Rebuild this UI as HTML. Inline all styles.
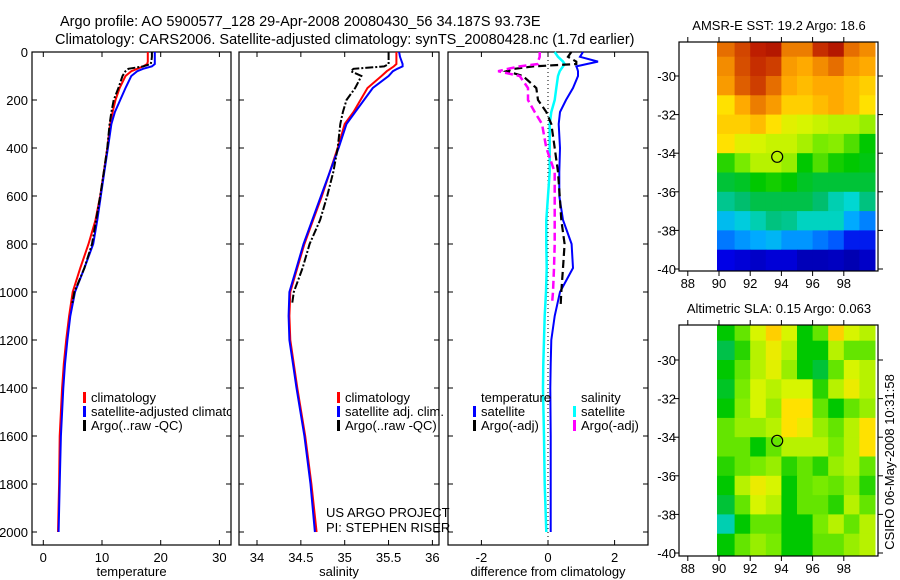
<!DOCTYPE html>
<html><head><meta charset="utf-8">
<style>
html,body{margin:0;padding:0;background:#fff;}
svg{display:block;font-family:"Liberation Sans",sans-serif;}
text{fill:#000;}
</style></head>
<body>
<svg id="chart" width="900" height="580" viewBox="0 0 900 580" xmlns="http://www.w3.org/2000/svg">
<defs><clipPath id="p1clip"><rect x="32" y="52" width="199" height="493"/></clipPath></defs>
<text x="60" y="26" font-size="14.5">Argo profile: AO 5900577_128 29-Apr-2008 20080430_56 34.187S 93.73E</text>
<text x="55" y="44" font-size="14.5">Climatology: CARS2006. Satellite-adjusted climatology: synTS_20080428.nc (1.7d earlier)</text>
<g id="g"></g>
</svg>
<script>
// ---- data ----
const depths=[0,20,40,50,60,70,80,100,150,200,250,300,400,500,600,700,800,900,1000,1100,1200,1300,1400,1600,1800,2000];
const tempClim=[17.8,17.8,17.8,17.7,17.0,16.0,15.0,14.0,13.0,12.3,11.8,11.4,10.9,10.3,9.7,8.9,7.7,6.3,5.0,4.4,3.9,3.5,3.2,2.8,2.7,2.5];
const tempSat=[19.0,19.0,19.0,19.0,18.5,17.0,16.0,15.0,14.0,13.1,12.2,11.6,11.0,10.4,9.8,9.2,8.5,7.0,5.4,4.6,4.1,3.7,3.4,3.0,2.8,2.6];
const argoDepths=[0,20,40,50,60,70,80,100,150,200,250,300,400,500,600,700,800,900,1000,1050];
const tempArgo=[18.5,18.5,18.4,18.3,17.0,14.5,14.0,13.5,12.8,12.0,11.6,11.3,10.9,10.3,9.7,9.0,8.3,7.0,5.3,4.9];
const salClim=[35.59,35.59,35.59,35.59,35.56,35.52,35.48,35.42,35.26,35.18,35.1,35.0,34.92,34.83,34.74,34.64,34.54,34.46,34.38,34.37,34.38,34.42,34.46,34.55,34.62,34.68];
const salSat=[35.62,35.63,35.65,35.66,35.66,35.6,35.55,35.5,35.32,35.22,35.12,35.02,34.93,34.83,34.73,34.63,34.53,34.45,34.37,34.36,34.37,34.41,34.45,34.54,34.61,34.66];
const salArgo=[35.5,35.5,35.5,35.5,35.45,35.1,35.07,35.19,35.12,35.02,34.98,34.95,34.92,34.87,34.8,34.72,34.6,34.52,34.42,34.40];
const dTempSat=[1.05,0.96,1.5,1.17,0.85,0.88,0.9,0.9,0.75,0.54,0.36,0.32,0.36,0.34,0.34,0.45,0.71,0.75,0.36,0.2,0.1,0.08,0.07,0.08,0.08,0.08];
const dSalSat=[0.2,0.3,0.45,0.5,0.45,0.4,0.35,0.3,0.25,0.2,0.1,0.05,0.05,0.05,0.0,-0.05,-0.05,-0.04,-0.06,-0.1,-0.12,-0.14,-0.15,-0.12,-0.1,-0.05];
const dTempArgo=[0.7,0.6,0.85,0.85,-0.45,-1.0,-1.25,-0.75,-0.35,-0.3,-0.05,0.1,0.2,0.3,0.35,0.4,0.5,0.45,0.4,0.38];
const dSalArgo=[-0.25,-0.25,-0.3,-0.3,-0.85,-1.2,-1.5,-0.85,-0.6,-0.6,-0.4,-0.18,-0.05,0.2,0.2,0.2,0.2,0.18,0.15,0.12];
const tempTicks=[0,10,20,30];
const salTicks=[34,34.5,35,35.5,36];
const diffTicks=[-2,0,2];
const depthTicks=[0,200,400,600,800,1000,1200,1400,1600,1800,2000];
const lonTicks=[88,90,92,94,96,98];
const latTicks=[-30,-32,-34,-36,-38,-40];
const mapLons=[90,91,92,93,94,95,96,97,98,99];
const mapLats=[-28,-29,-30,-31,-32,-33,-34,-35,-36,-37,-38,-39];
const sstGrid=[
[0.8,0.85,0.9,0.92,0.78,0.78,0.88,0.92,0.8,0.76],
[0.76,0.84,0.88,0.86,0.74,0.72,0.76,0.8,0.74,0.72],
[0.74,0.82,0.86,0.8,0.72,0.7,0.72,0.72,0.7,0.68],
[0.66,0.72,0.78,0.74,0.68,0.68,0.7,0.72,0.7,0.66],
[0.68,0.68,0.7,0.66,0.63,0.62,0.61,0.6,0.6,0.58],
[0.66,0.63,0.62,0.61,0.61,0.59,0.56,0.57,0.54,0.5],
[0.52,0.56,0.6,0.6,0.58,0.5,0.54,0.51,0.5,0.49],
[0.47,0.48,0.5,0.51,0.5,0.48,0.47,0.47,0.47,0.47],
[0.42,0.44,0.46,0.46,0.46,0.46,0.44,0.4,0.38,0.43],
[0.33,0.36,0.4,0.43,0.42,0.39,0.39,0.39,0.3,0.26],
[0.25,0.28,0.3,0.32,0.28,0.28,0.25,0.22,0.15,0.15],
[0.12,0.1,0.08,0.1,0.1,0.06,0.06,0.07,0.05,0.08]];
const slaGrid=[
[0.5,0.55,0.62,0.68,0.62,0.5,0.55,0.68,0.62,0.6],
[0.46,0.52,0.6,0.64,0.6,0.5,0.5,0.6,0.55,0.55],
[0.5,0.55,0.6,0.63,0.58,0.5,0.47,0.55,0.62,0.6],
[0.48,0.56,0.62,0.6,0.62,0.62,0.52,0.6,0.64,0.6],
[0.5,0.57,0.62,0.58,0.66,0.66,0.55,0.5,0.55,0.58],
[0.55,0.58,0.58,0.6,0.66,0.64,0.58,0.55,0.6,0.66],
[0.55,0.55,0.5,0.55,0.6,0.6,0.6,0.56,0.6,0.66],
[0.52,0.55,0.56,0.58,0.52,0.55,0.52,0.58,0.6,0.55],
[0.5,0.6,0.64,0.62,0.5,0.55,0.56,0.55,0.58,0.52],
[0.47,0.55,0.62,0.6,0.5,0.55,0.55,0.52,0.6,0.55],
[0.4,0.5,0.55,0.55,0.5,0.5,0.56,0.6,0.55,0.6],
[0.5,0.55,0.58,0.56,0.5,0.5,0.55,0.55,0.58,0.6]];
const argoLon=93.73, argoLat=-34.187;

// ---- helpers ----
const NS="http://www.w3.org/2000/svg";
const G=document.getElementById('g');
function mk(tag,attrs,parent,txt){const e=document.createElementNS(NS,tag);for(const k in attrs)e.setAttribute(k,attrs[k]);if(txt!==undefined)e.textContent=txt;(parent||G).appendChild(e);return e;}
const yD=d=>52+d*0.24;
const panels=[
 {name:'temperature',l:32,r:231,x:v=>43.3+v*5.87,ticks:tempTicks,label:'temperature'},
 {name:'salinity',l:239,r:439,x:v=>257+(v-34)*87.7,ticks:salTicks,label:'salinity'},
 {name:'difference',l:448,r:648,x:v=>548+v*33.3,ticks:diffTicks,label:'difference from climatology'}];
const pTop=52,pBot=545;
panels.forEach((p,i)=>{
 const f=mk('rect',{x:p.l,y:pTop,width:p.r-p.l,height:pBot-pTop,fill:'none',stroke:'#000','stroke-width':1.2});
 
 
 p.ticks.forEach(t=>{const x=p.x(t);
  mk('line',{x1:x,x2:x,y1:pBot,y2:pBot-5,stroke:'#000'});mk('line',{x1:x,x2:x,y1:pTop,y2:pTop+5,stroke:'#000'});
  const tl=mk('text',{x:x,y:pBot+17,'font-size':13,'text-anchor':'middle'},G,String(t));
  
  });
 const xl=mk('text',{x:(p.l+p.r)/2,y:pBot+31,'font-size':13,'text-anchor':'middle'},G,p.label);
 
 
 depthTicks.forEach(d=>{const y=yD(d);
  mk('line',{x1:p.l,x2:p.l+5,y1:y,y2:y,stroke:'#000'});mk('line',{x1:p.r,x2:p.r-5,y1:y,y2:y,stroke:'#000'});
  if(i===0){const t=mk('text',{x:28,y:y+5,'font-size':13,'text-anchor':'end'},G,String(d));
   
   }});
});
function line(p,ds,vals,color,name,dash,w){
 const pts=ds.map((d,k)=>p.x(vals[k]).toFixed(1)+','+yD(d).toFixed(1)).join(' ');
 const e=mk('polyline',{points:pts,fill:'none',stroke:color,'stroke-width':w||2});
 if(dash)e.setAttribute('stroke-dasharray',dash);
 
 }
const P1=panels[0],P2=panels[1],P3=panels[2];
line(P1,depths,tempClim,'#ff0000','temp-climatology-line');
line(P1,depths,tempSat,'#0000ff','temp-satellite-line');
line(P1,argoDepths,tempArgo,'#000','temp-argo-line','8,2,2,2',2);
line(P2,depths,salClim,'#ff0000','sal-climatology-line');
line(P2,depths,salSat,'#0000ff','sal-satellite-line');
line(P2,argoDepths,salArgo,'#000','sal-argo-line','8,2,2,2',2);
const z=mk('line',{x1:P3.x(0),x2:P3.x(0),y1:pTop,y2:pBot,stroke:'#000','stroke-dasharray':'1,3'});


line(P3,depths,dTempSat,'#0000ff','diff-temp-satellite-line');
line(P3,depths,dSalSat,'#00ffff','diff-sal-satellite-line',null,2.5);
line(P3,argoDepths,dTempArgo,'#000','diff-temp-argo-line','8,4',2.2);
line(P3,argoDepths,dSalArgo,'#ff00ff','diff-sal-argo-line','8,4',2.5);

function legendEntry(x,y,color,txt,name,clip){
 const g=mk('g',clip?{'clip-path':'url(#'+clip+')'}:{});
 
 
 mk('rect',{x:x,y:y-10,width:3,height:11,fill:color},g);
 mk('text',{x:x+8,y:y,'font-size':13},g,txt);}
legendEntry(83,402,'#ff0000','climatology','legend-temp-climatology');
legendEntry(83,416,'#0000ff','satellite-adjusted climatology','legend-temp-satellite','p1clip');
legendEntry(83,430,'#000','Argo(..raw -QC)','legend-temp-argo');
legendEntry(337,402,'#ff0000','climatology','legend-sal-climatology');
legendEntry(337,416,'#0000ff','satellite adj. clim.','legend-sal-satellite');
legendEntry(337,430,'#000','Argo(..raw -QC)','legend-sal-argo');
const lt1=mk('text',{x:481,y:402,'font-size':13},G,'temperature');


const lt2=mk('text',{x:581,y:402,'font-size':13},G,'salinity');


legendEntry(473,416,'#0000ff','satellite','legend-diff-temp-satellite');
legendEntry(473,430,'#000','Argo(-adj)','legend-diff-temp-argo');
legendEntry(573,416,'#00ffff','satellite','legend-diff-sal-satellite');
legendEntry(573,430,'#ff00ff','Argo(-adj)','legend-diff-sal-argo');
const c1=mk('text',{x:326,y:517,'font-size':13},G,'US ARGO PROJECT');


const c2=mk('text',{x:326,y:532,'font-size':13},G,'PI: STEPHEN RISER');



// ---- maps ----
const cmapStops=[[0,0,0,140],[0.12,0,0,230],[0.22,0,90,255],[0.3,0,170,255],[0.38,0,215,210],[0.44,0,190,110],[0.5,0,200,0],[0.56,120,235,0],[0.62,215,245,0],[0.66,255,225,0],[0.72,255,170,0],[0.8,230,110,0],[0.9,190,30,0],[1,140,0,0]];
function cmap(v){
 for(let k=1;k<cmapStops.length;k++){const a=cmapStops[k-1],b=cmapStops[k];
  if(v<=b[0]){const t=Math.max(0,(v-a[0])/(b[0]-a[0]));
   return 'rgb('+Math.round(a[1]+(b[1]-a[1])*t)+','+Math.round(a[2]+(b[2]-a[2])*t)+','+Math.round(a[3]+(b[3]-a[3])*t)+')';}}
 return 'rgb(140,0,0)';}
function drawMap(id,fT,fB,y30,grid,title){
 const L=679,R=878,xL=lon=>719+(lon-90)*15.6,yL=lat=>y30+(lat+30)*(-19.3);
 const cid='clip'+id;const cp=mk('clipPath',{id:cid});mk('rect',{x:717,y:fT,width:R-717,height:fB-fT},cp);
 const cg=mk('g',{'clip-path':'url(#'+cid+')'});
 
 
 mapLats.forEach((lat,j)=>mapLons.forEach((lon,i)=>{
  const x0=i===0?710:xL(lon),x1=xL(lon+1)+0.5;
  let y0=yL(lat),y1=yL(lat-1)+0.6;
  if(j===0)y0-=20;
  if(j===mapLats.length-1)y1+=10;
  const r=mk('rect',{x:x0,y:y0,width:x1-x0,height:y1-y0,fill:cmap(grid[j][i])},cg);
  
  }));
 const fr=mk('rect',{x:L,y:fT,width:R-L,height:fB-fT,fill:'none',stroke:'#000','stroke-width':1.2});
 
 
 lonTicks.forEach(lo=>{const x=xL(lo);mk('line',{x1:x,x2:x,y1:fB,y2:fB+5,stroke:'#000'});mk('line',{x1:x,x2:x,y1:fT,y2:fT-5,stroke:'#000'});
  const t=mk('text',{x:x,y:fB+17,'font-size':13,'text-anchor':'middle'},G,String(lo));
  
  });
 latTicks.forEach(la=>{const y=yL(la);mk('line',{x1:L,x2:L-5,y1:y,y2:y,stroke:'#000'});mk('line',{x1:R,x2:R+5,y1:y,y2:y,stroke:'#000'});
  const t=mk('text',{x:L-3,y:y+5,'font-size':13,'text-anchor':'end'},G,String(la));
  
  });
 const c=mk('circle',{cx:xL(argoLon),cy:yL(argoLat),r:5.5,fill:'none',stroke:'#000','stroke-width':1.2});
 
 
 const tt=mk('text',{x:779,y:fT-12,'font-size':13,'text-anchor':'middle'},G,title);
 
 }
drawMap('sst-map',42,271,76,sstGrid,'AMSR-E SST: 19.2 Argo: 18.6');
drawMap('sla-map',325,556,360,slaGrid,'Altimetric SLA: 0.15 Argo: 0.063');
const st=mk('text',{x:0,y:0,'font-size':13,'text-anchor':'middle',transform:'translate(894,462) rotate(-90)'},G,'CSIRO 06-May-2008 10:31:58');


</script>
</body></html>
